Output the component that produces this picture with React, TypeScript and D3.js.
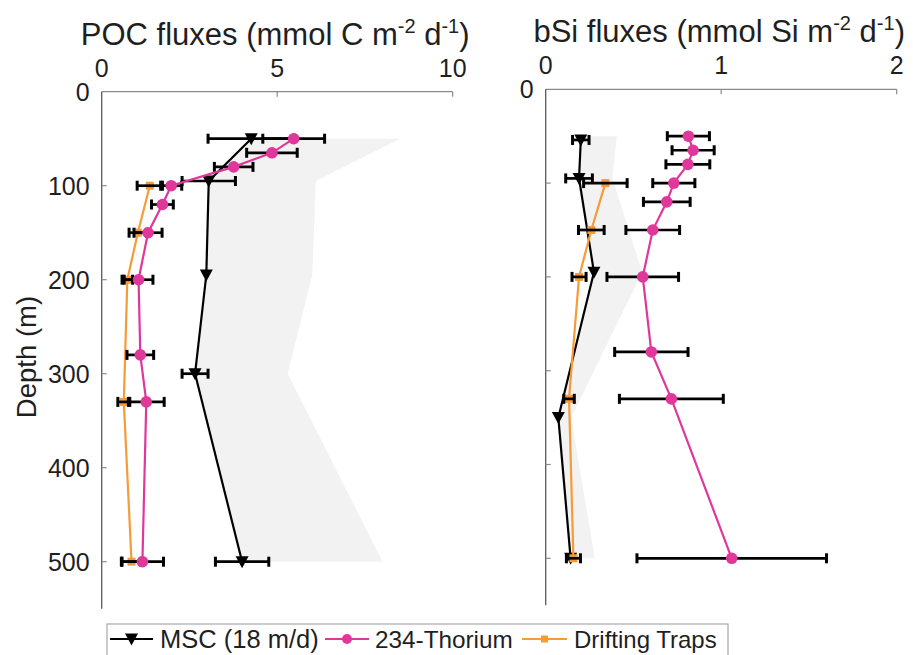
import React from "react";
import * as d3 from "d3";

// Depth axis
const DEPTH_TICKS = [0, 100, 200, 300, 400, 500];
const DEPTH_MAX = 550;

// POC panel (mmol C m-2 d-1)
const POC_TICKS = [0, 5, 10];
const pocMscDepth = [50, 95, 195, 300, 500];
const pocMsc = [4.26, 3.05, 2.98, 2.66, 4.0];
const pocMscErr: (number | null)[] = [1.23, 0.76, null, 0.37, 0.76];
const pocBandDepth = [50, 95, 195, 300, 500];
const pocBandLow = [4.26, 3.05, 2.98, 2.66, 4.0];
const pocBandHigh = [8.5, 6.1, 6.0, 5.3, 8.0];
const pocThDepth = [50, 65, 80, 100, 120, 150, 200, 280, 330, 500];
const pocTh = [5.47, 4.85, 3.76, 1.98, 1.73, 1.32, 1.05, 1.1, 1.27, 1.16];
const pocThErr = [0.88, 0.72, 0.55, 0.3, 0.31, 0.4, 0.41, 0.38, 0.51, 0.6];
const pocTrapDepth = [100, 150, 200, 330, 500];
const pocTrap = [1.37, 1.03, 0.73, 0.63, 0.85];
const pocTrapErr = [0.36, 0.25, 0.15, 0.17, 0.27];

// bSi panel (mmol Si m-2 d-1)
const BSI_TICKS = [0, 1, 2];
const bsiMscDepth = [54, 95, 195, 350, 500];
const bsiMsc = [0.2, 0.19, 0.275, 0.072, 0.142];
const bsiMscErr: (number | null)[] = [0.047, 0.076, null, null, null];
const bsiBandDepth = [50, 95, 195, 350, 500];
const bsiBandLow = [0.2, 0.19, 0.275, 0.072, 0.142];
const bsiBandHigh = [0.405, 0.38, 0.55, 0.145, 0.28];
const bsiThDepth = [50, 65, 80, 100, 120, 150, 200, 280, 330, 500];
const bsiTh = [0.813, 0.84, 0.81, 0.73, 0.69, 0.61, 0.553, 0.602, 0.716, 1.06];
const bsiThErr = [0.12, 0.12, 0.125, 0.12, 0.133, 0.153, 0.204, 0.209, 0.296, 0.54];
const bsiTrapDepth = [100, 150, 200, 330, 500];
const bsiTrap = [0.34, 0.26, 0.19, 0.133, 0.158];
const bsiTrapErr = [0.124, 0.073, 0.04, 0.03, 0.04];

const LEGEND_LABELS = ["MSC (18 m/d)", "234-Thorium", "Drifting Traps"];

const PINK = "#e0379b";
const ORANGE = "#f59b38";
const BAND = "#f2f2f2";
const TEXT = "#1f1f1f";
const FONT = "'Liberation Sans', Arial, Helvetica, sans-serif";

type Series = { depth: number[]; value: number[]; err: (number | null)[] };

type PanelProps = {
  xDomain: [number, number];
  xRange: [number, number];
  yRange: [number, number];
  xTicks: number[];
  depthLabels: number[];
  title: React.ReactNode;
  titleY: number;
  band: { depth: number[]; low: number[]; high: number[] };
  msc: Series;
  th: Series;
  trap: Series;
};

function triPath(cx: number, cy: number) {
  return `M${cx - 6.5},${cy - 5.5}L${cx + 6.5},${cy - 5.5}L${cx},${cy + 6.5}Z`;
}

function ErrorBars({ s, x, y }: { s: Series; x: d3.ScaleLinear<number, number>; y: d3.ScaleLinear<number, number> }) {
  return (
    <g stroke="#000" strokeWidth={2.7} fill="none">
      {s.value.map((v, i) => {
        const e = s.err[i];
        if (e == null) return null;
        const cy = y(s.depth[i]);
        const x0 = x(v - e);
        const x1 = x(v + e);
        return (
          <g key={i}>
            <line x1={x0} x2={x1} y1={cy} y2={cy} />
            <line x1={x0} x2={x0} y1={cy - 5} y2={cy + 5} strokeWidth={3} />
            <line x1={x1} x2={x1} y1={cy - 5} y2={cy + 5} strokeWidth={3} />
          </g>
        );
      })}
    </g>
  );
}

function Panel(p: PanelProps) {
  const x = d3.scaleLinear().domain(p.xDomain).range(p.xRange);
  const y = d3.scaleLinear().domain([0, DEPTH_MAX]).range(p.yRange);
  const line = d3
    .line<[number, number]>()
    .x((d) => x(d[0]))
    .y((d) => y(d[1]));
  const pts = (s: Series) => s.value.map((v, i) => [v, s.depth[i]] as [number, number]);

  const bandArea = d3
    .area<number>()
    .y((i) => y(p.band.depth[i]))
    .x0((i) => x(p.band.low[i]))
    .x1((i) => x(p.band.high[i]));

  const [xl, xr] = p.xRange;
  const [yt, yb] = p.yRange;
  const midX = (xl + xr) / 2;

  return (
    <g>
      <path d={bandArea(d3.range(p.band.depth.length)) || ""} fill={BAND} />

      {/* MSC */}
      <ErrorBars s={p.msc} x={x} y={y} />
      <path d={line(pts(p.msc)) || ""} fill="none" stroke="#000" strokeWidth={2.2} />
      {p.msc.value.map((v, i) => (
        <path key={i} d={triPath(x(v), y(p.msc.depth[i]))} fill="#000" />
      ))}

      {/* drifting traps */}
      <path d={line(pts(p.trap)) || ""} fill="none" stroke={ORANGE} strokeWidth={2.2} />
      {p.trap.value.map((v, i) => (
        <rect key={i} x={x(v) - 4} y={y(p.trap.depth[i]) - 4} width={8} height={8} fill={ORANGE} />
      ))}
      <ErrorBars s={p.trap} x={x} y={y} />

      {/* 234-Thorium */}
      <ErrorBars s={p.th} x={x} y={y} />
      <path d={line(pts(p.th)) || ""} fill="none" stroke={PINK} strokeWidth={2.2} />
      {p.th.value.map((v, i) => (
        <circle key={i} cx={x(v)} cy={y(p.th.depth[i])} r={5.8} fill={PINK} />
      ))}

      {/* axes */}
      <line x1={xl} x2={xr} y1={yt} y2={yt} stroke="#8a8a8a" strokeWidth={1.2} />
      <line x1={xl} x2={xl} y1={yt} y2={yb} stroke="#5a5a5a" strokeWidth={1.3} />
      {p.xTicks.slice(1).map((t) => (
        <line key={t} x1={x(t)} x2={x(t)} y1={yt} y2={yt + 5} stroke="#8a8a8a" strokeWidth={1.2} />
      ))}
      {DEPTH_TICKS.slice(1).map((t) => (
        <line key={t} x1={xl} x2={xl + 5} y1={y(t)} y2={y(t)} stroke="#8a8a8a" strokeWidth={1.2} />
      ))}
      <g fontFamily={FONT} fontSize={25} fill={TEXT}>
        {p.xTicks.map((t) => (
          <text key={t} x={x(t)} y={yt - 15} textAnchor="middle">
            {t}
          </text>
        ))}
        {p.depthLabels.map((t) => (
          <text key={t} x={xl - 12} y={y(t) + 9} textAnchor="end">
            {t}
          </text>
        ))}
      </g>
      <text x={midX - 2} y={p.titleY} textAnchor="middle" fontFamily={FONT} fontSize={31} fill={TEXT}>
        {p.title}
      </text>
    </g>
  );
}

function unitTitle(head: string, el: string) {
  return (
    <>
      {head} (mmol {el} m
      <tspan dy={-12} fontSize={20}>-2</tspan>
      <tspan dy={12}> d</tspan>
      <tspan dy={-12} fontSize={20}>-1</tspan>
      <tspan dy={12}>)</tspan>
    </>
  );
}

export default function App() {
  const legendY = 648;
  return (
    <div style={{ position: "absolute", left: 0, top: 0, width: 913, height: 655, background: "#fff" }}>
      <svg width={913} height={655} style={{ display: "block" }}>
        <Panel
          xDomain={[0, 10]}
          xRange={[101.7, 452.7]}
          yRange={[91.7, 608.7]}
          xTicks={POC_TICKS}
          depthLabels={DEPTH_TICKS}
          title={unitTitle("POC fluxes", "C")}
          titleY={45}
          band={{ depth: pocBandDepth, low: pocBandLow, high: pocBandHigh }}
          msc={{ depth: pocMscDepth, value: pocMsc, err: pocMscErr }}
          th={{ depth: pocThDepth, value: pocTh, err: pocThErr }}
          trap={{ depth: pocTrapDepth, value: pocTrap, err: pocTrapErr }}
        />
        <Panel
          xDomain={[0, 2]}
          xRange={[545.7, 896.7]}
          yRange={[89.3, 605.2]}
          xTicks={BSI_TICKS}
          depthLabels={[0]}
          title={unitTitle("bSi fluxes", "Si")}
          titleY={42}
          band={{ depth: bsiBandDepth, low: bsiBandLow, high: bsiBandHigh }}
          msc={{ depth: bsiMscDepth, value: bsiMsc, err: bsiMscErr }}
          th={{ depth: bsiThDepth, value: bsiTh, err: bsiThErr }}
          trap={{ depth: bsiTrapDepth, value: bsiTrap, err: bsiTrapErr }}
        />

        {/* y-axis title */}
        <text
          transform="translate(36,357) rotate(-90)"
          textAnchor="middle"
          fontFamily={FONT}
          fontSize={27.5}
          fill={TEXT}
        >
          Depth (m)
        </text>

        {/* legend */}
        <g>
          <rect x={107} y={624} width={621} height={44} fill="#fff" stroke="#a8a8a8" strokeWidth={1.2} />
          <line x1={110} x2={153} y1={legendY - 9} y2={legendY - 9} stroke="#000" strokeWidth={2.2} />
          <path d={triPath(131.5, legendY - 9)} fill="#000" />
          <line x1={325} x2={369} y1={legendY - 9} y2={legendY - 9} stroke={PINK} strokeWidth={2.2} />
          <circle cx={347} cy={legendY - 9} r={5} fill={PINK} />
          <line x1={522} x2={567} y1={legendY - 9} y2={legendY - 9} stroke={ORANGE} strokeWidth={2.2} />
          <rect x={541} y={legendY - 12.5} width={7} height={7} fill={ORANGE} />
          <g fontFamily={FONT} fill={TEXT}>
            <text x={160} y={legendY} fontSize={25.5}>{LEGEND_LABELS[0]}</text>
            <text x={375} y={legendY} fontSize={24.3}>{LEGEND_LABELS[1]}</text>
            <text x={574} y={legendY} fontSize={24}>{LEGEND_LABELS[2]}</text>
          </g>
        </g>
      </svg>
    </div>
  );
}
